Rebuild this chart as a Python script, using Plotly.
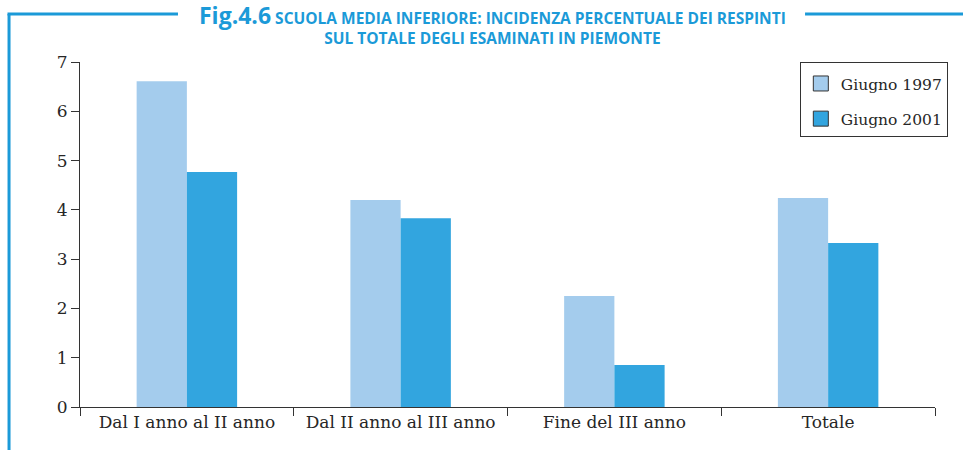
import plotly.graph_objects as go

categories = ["Dal I anno al II anno", "Dal II anno al III anno", "Fine del III anno", "Totale"]
giugno_1997 = [6.61, 4.20, 2.25, 4.24]
giugno_2001 = [4.77, 3.83, 0.85, 3.33]
series_names = ["Giugno 1997", "Giugno 2001"]
y_ticks = [0, 1, 2, 3, 4, 5, 6, 7]

c1997 = "#a4cced"
c2001 = "#32a5df"
frame = "#1b9ad8"
serif = "DejaVu Serif, Liberation Serif, serif"
ink = "#262626"

fig = go.Figure()
for i, (name, vals, col) in enumerate([(series_names[0], giugno_1997, c1997), (series_names[1], giugno_2001, c2001)]):
    fig.add_trace(go.Bar(x=categories, y=vals, name=name, marker=dict(color=col, line=dict(width=0)),
                         showlegend=False))
    fig.add_trace(go.Scatter(x=[None], y=[None], mode="markers", name=name, legendgroup=f"g{i}",
                             marker=dict(symbol="square", size=15, color=col,
                                         line=dict(color="#333333", width=1))))

fig.update_layout(
    width=963, height=450,
    margin=dict(l=80, r=28, t=62, b=43, autoexpand=False),
    paper_bgcolor="white", plot_bgcolor="white",
    barmode="group", bargap=0.53, bargroupgap=0,
    font=dict(family=serif, size=17, color=ink),
    legend=dict(x=1.015, y=1.0, xanchor="right", yanchor="top",
                bordercolor="#333333", borderwidth=1, bgcolor="white",
                font=dict(family=serif, size=15.5, color=ink),
                title=dict(text=" ", font=dict(size=3)),
                tracegroupgap=12, itemwidth=30),
    showlegend=True,
)
fig.update_xaxes(type="category", tickson="boundaries", ticks="outside", ticklen=8,
                 tickcolor="#333333", showline=True, linecolor="#333333", linewidth=1,
                 showgrid=False, tickfont=dict(family=serif, size=17, color=ink))
fig.update_yaxes(range=[0, 7], tickvals=y_ticks, ticks="outside", ticklen=8,
                 tickcolor="#333333", showline=True, linecolor="#333333", linewidth=1,
                 showgrid=False, zeroline=False,
                 tickfont=dict(family=serif, size=17, color=ink))

# frame lines
fy = (407 - 14) / 345
fig.add_shape(type="line", xref="paper", yref="paper", x0=-0.083, x1=-0.083, y0=fy, y1=-0.13,
              line=dict(color=frame, width=3))
fig.add_shape(type="line", xref="paper", yref="paper", x0=-0.0848, x1=0.1146, y0=fy, y1=fy,
              line=dict(color=frame, width=3))
fig.add_shape(type="line", xref="paper", yref="paper", x0=0.848, x1=1.04, y0=fy, y1=fy,
              line=dict(color=frame, width=3))

fig.add_annotation(xref="paper", yref="paper", x=0.482, y=(407 + 3) / 345, yanchor="top", xanchor="center",
                   showarrow=False, align="center",
                   text="<b><span style='font-size:23px'>Fig.4.6</span> SCUOLA MEDIA INFERIORE: INCIDENZA PERCENTUALE DEI RESPINTI<br>SUL TOTALE DEGLI ESAMINATI IN PIEMONTE</b>",
                   font=dict(family="Open Sans, sans-serif", size=15.5, color=frame))

fig.write_html("out.html", config={"displayModeBar": False},
               post_script="document.body.style.margin='0';")
